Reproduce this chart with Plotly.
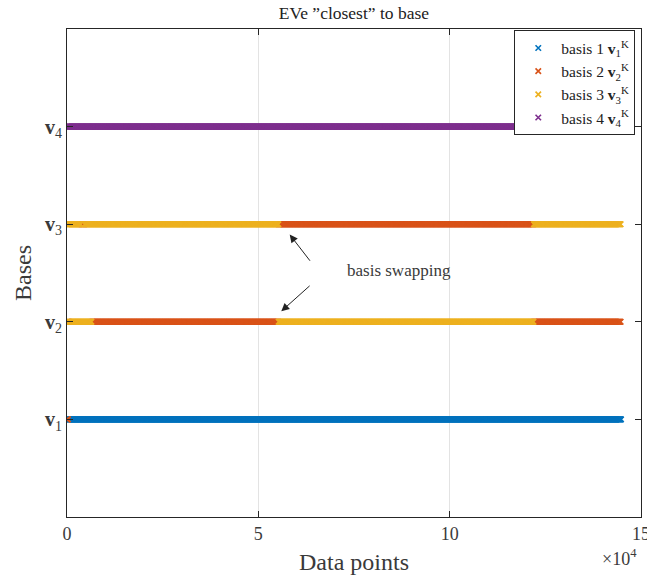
import numpy as np
import plotly.graph_objects as go

# Which eigenvector lands "closest" to each base, stored as runs along the data index.
# Each row: boundaries of the runs (data-point index) and the basis id for each run.
v1_bounds = [0, 300, 144800]
v1_basis = [2, 1]
v2_bounds = [0, 500, 6500, 55300, 122000, 144800]
v2_basis = [2, 3, 2, 3, 2]
v3_bounds = [0, 3700, 4600, 55300, 122000, 144800]
v3_basis = [3, 2, 3, 2, 3]
v4_bounds = [0, 144800]
v4_basis = [4]

rows = [(1, v1_bounds, v1_basis), (2, v2_bounds, v2_basis),
        (3, v3_bounds, v3_basis), (4, v4_bounds, v4_basis)]

basis_names = ["basis 1 <b>v</b><sub>1</sub><sup>K</sup>",
               "basis 2 <b>v</b><sub>2</sub><sup>K</sup>",
               "basis 3 <b>v</b><sub>3</sub><sup>K</sup>",
               "basis 4 <b>v</b><sub>4</sub><sup>K</sup>"]
basis_colors = ["#0072BD", "#D95319", "#EDB120", "#7E2F8E"]

y_tick_vals = [1, 2, 3, 4]
y_tick_text = ["<b>v</b><sub>1</sub>", "<b>v</b><sub>2</sub>",
               "<b>v</b><sub>3</sub>", "<b>v</b><sub>4</sub>"]
x_tick_vals = [0, 50000, 100000, 150000]
x_tick_text = ["0", "5", "10", "15"]

STEP = 120  # thin the index so the SVG stays light; markers still overlap into a band

FONT = "Liberation Serif"
TXT = "#3a3a3a"

# Expand the runs into points and group them by basis id
pts = {k: ([], []) for k in range(1, 5)}
for row, bounds, basis in rows:
    for i, b in enumerate(basis):
        xs = np.arange(bounds[i], bounds[i + 1], STEP)
        pts[b][0].extend(xs.tolist())
        pts[b][1].extend([row] * len(xs))

fig = go.Figure()
for k in range(1, 5):
    fig.add_trace(go.Scatter(
        x=pts[k][0], y=pts[k][1], mode="markers", name=basis_names[k - 1],
        marker=dict(symbol="x-thin", size=5.5, color=basis_colors[k - 1],
                    line=dict(width=1.6, color=basis_colors[k - 1])),
    ))

fig.update_layout(
    width=647, height=576,
    margin=dict(l=67, r=6, t=29, b=59),
    paper_bgcolor="white", plot_bgcolor="white",
    font=dict(family=FONT, color=TXT, size=15),
    title=dict(text="EVe \u201dclosest\u201d to base", x=0.547, xanchor="center",
               y=0.978, yanchor="middle", font=dict(size=17.5, color="#222222")),
    showlegend=True,
    legend=dict(x=0.99, xanchor="right", y=0.997, yanchor="top",
                bgcolor="white", bordercolor="#262626", borderwidth=1,
                font=dict(size=15.5, color="#222222"), tracegroupgap=0,
                itemwidth=36),
)

fig.update_xaxes(
    range=[0, 150000], tickvals=x_tick_vals, ticktext=x_tick_text,
    showgrid=True, gridcolor="#e3e3e3", gridwidth=1, zeroline=False,
    showline=True, linecolor="#262626", linewidth=1, mirror="ticks",
    ticks="inside", ticklen=6, tickcolor="#262626", automargin=False,
    tickfont=dict(size=18, color=TXT), ticklabeloverflow="allow",
    title=dict(text="Data points", font=dict(size=24, color=TXT), standoff=10),
)
fig.update_yaxes(
    range=[0, 5], tickvals=y_tick_vals, ticktext=y_tick_text,
    showgrid=False, zeroline=False, automargin=False,
    showline=True, linecolor="#262626", linewidth=1, mirror="ticks",
    ticks="inside", ticklen=6, tickcolor="#262626",
    tickfont=dict(size=20, color=TXT),
    title=dict(text="Bases", font=dict(size=24, color=TXT), standoff=6),
)

# Exponent label for the x axis
fig.add_annotation(text="\u00d710<sup>4</sup>", xref="paper", yref="paper",
                   x=0.997, y=-0.082, xanchor="right", yanchor="middle",
                   showarrow=False, font=dict(size=18, color=TXT))

# Arrows pointing at the swap between v2 and v3
fig.add_annotation(x=58200, y=2.894, ax=63800, ay=2.61, xref="x", yref="y",
                   axref="x", ayref="y", text="", showarrow=True,
                   arrowhead=2, arrowsize=1.6, arrowwidth=1, arrowcolor="#222222")
fig.add_annotation(x=56000, y=2.108, ax=63800, ay=2.382, xref="x", yref="y",
                   axref="x", ayref="y", text="", showarrow=True,
                   arrowhead=2, arrowsize=1.6, arrowwidth=1, arrowcolor="#222222")
fig.add_annotation(x=86800, y=2.528, xref="x", yref="y", text="basis swapping",
                   showarrow=False, font=dict(size=17, color=TXT))

fig.write_html("out.html")
